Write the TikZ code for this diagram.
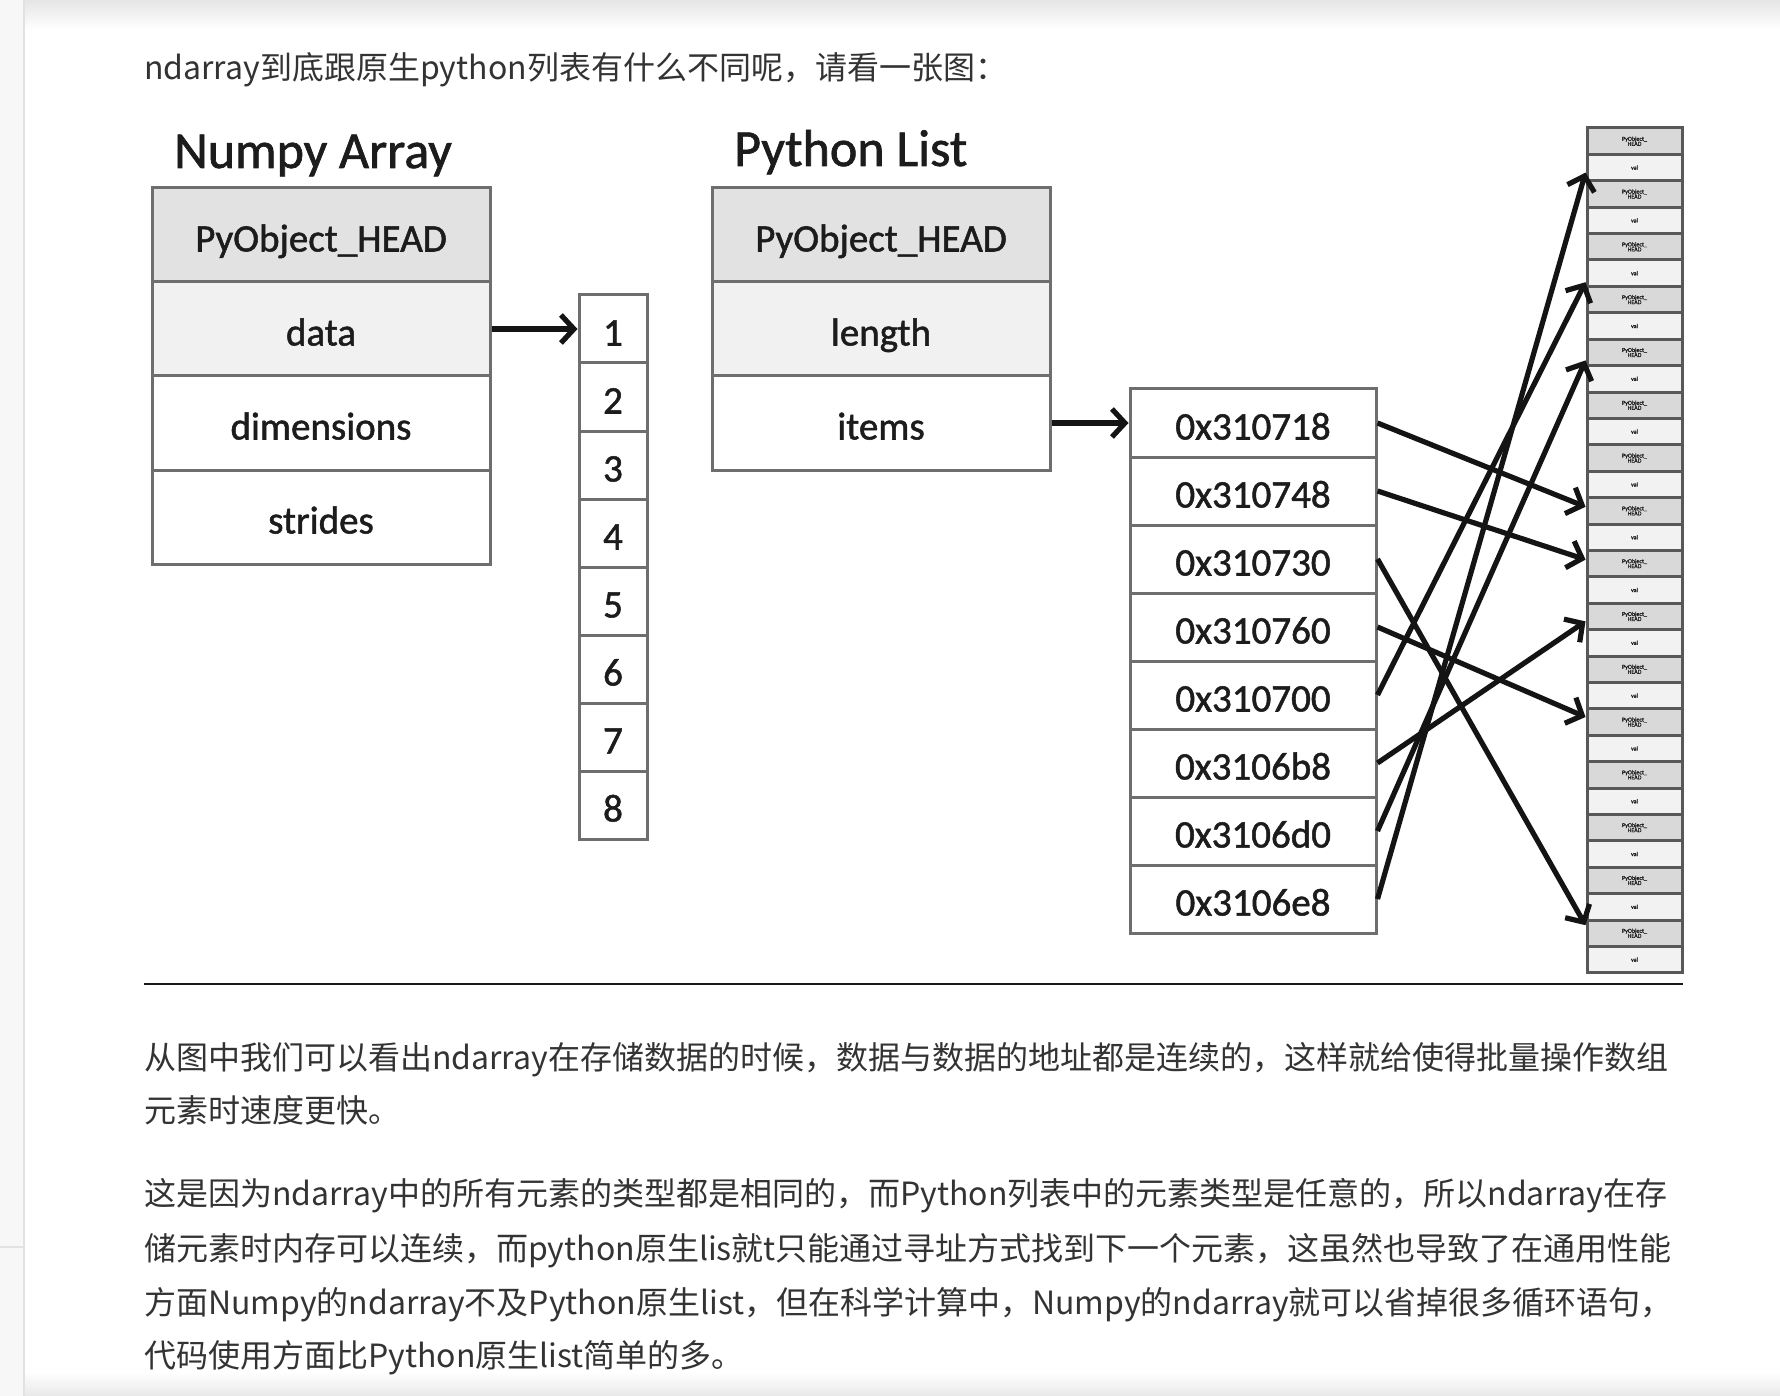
\documentclass[tikz,border=0pt]{standalone}
\usepackage{fontspec}
\setmainfont{Carlito}
\newfontfamily\diag{Carlito}[FakeBold=1.3]
\newfontfamily\cjk{Noto Sans CJK SC}
\usetikzlibrary{arrows.meta,calc}
\definecolor{bord}{HTML}{6E6E6E}
\definecolor{mbord}{HTML}{585858}
\definecolor{headfill}{HTML}{E2E2E2}
\definecolor{rowfill}{HTML}{F1F1F1}
\definecolor{memgrey}{HTML}{D9D9D9}
\definecolor{memlight}{HTML}{F2F2F2}
\definecolor{txtd}{HTML}{1C1C1C}
\definecolor{bodytxt}{HTML}{333333}
\definecolor{sidebar}{HTML}{F7F7F7}
\definecolor{sideline}{HTML}{E2E2E2}
\tikzset{
  cellbase/.style={draw=bord, line width=3pt, inner sep=0pt, text=txtd,
    text height=33pt, text depth=0pt,
    font=\diag\fontsize{39}{44}\selectfont},
  rowbox/.style={cellbase, minimum width=338pt, minimum height=94pt},
  numcell/.style={cellbase, fill=white, minimum width=68pt, minimum height=68pt},
  addrcell/.style={cellbase, fill=white, minimum width=246pt, minimum height=68pt},
  memcell/.style={draw=mbord, line width=3pt, minimum width=95pt, minimum height=26.4pt,
    inner sep=0pt, align=center, text=txtd, font=\diag\fontsize{6}{6}\selectfont},
  memg/.style={memcell, fill=memgrey},
  meml/.style={memcell, fill=memlight},
  ptr/.style={line width=5.2pt, draw=black!92,
    -{Straight Barb[length=13pt,width=28pt]}},
  title/.style={anchor=base west, inner sep=0pt, text=txtd, font=\diag\fontsize{52}{58}\selectfont},
  bodyline/.style={anchor=base west, inner sep=0pt, text=bodytxt,
    font=\cjk\fontsize{32}{36}\selectfont}
}
\begin{document}
\begin{tikzpicture}[x=1pt,y=-1pt]
\useasboundingbox (0,0) rectangle (1780,1396);
\fill[white] (0,0) rectangle (1780,1396);
% page chrome
\shade[top color=black!10, bottom color=white] (0,0) rectangle (1780,30);
\shade[top color=white, bottom color=black!9] (0,1372) rectangle (1780,1396);
\fill[sidebar] (0,0) rectangle (24,1396);
\draw[sideline, line width=1.5pt] (24,0) -- (24,1396);
\draw[sideline, line width=1.5pt] (0,1247) -- (24,1247);

% heading text
\node[bodyline] (intro) at (144,80) {ndarray到底跟原生python列表有什么不同呢，请看一张图：};

% titles
\node[title] (tnp) at (174,168) {Numpy Array};
\node[title] (tpl) at (734,166) {Python List};

% Numpy array struct
\node[rowbox, fill=headfill] (nphead) at (321,235) {PyObject\_HEAD};
\node[rowbox, fill=rowfill] (npdata) at (321,329) {data};
\node[rowbox, fill=white] (npdim) at (321,423) {dimensions};
\node[rowbox, fill=white] (npstr) at (321,517) {strides};

% contiguous data
\foreach \i in {1,...,8}{
  \node[numcell] (n\i) at (613,{329+68*(\i-1)}) {\i};
}

% Python list struct
\node[rowbox, fill=headfill] (plhead) at (881,235) {PyObject\_HEAD};
\node[rowbox, fill=rowfill] (pllen) at (881,329) {length};
\node[rowbox, fill=white] (plitems) at (881,423) {items};

% address column
\foreach \t [count=\i] in {0x310718,0x310748,0x310730,0x310760,0x310700,0x3106b8,0x3106d0,0x3106e8}{
  \node[addrcell] (a\i) at (1253,{423+68*(\i-1)}) {\t};
}

% memory column
\foreach \k in {0,...,15}{
  \node[memg] (r\the\numexpr2*\k\relax) at (1634.5,{141.2+52.8*\k}) {PyObject\_\\[-1pt]HEAD};
  \node[meml] (r\the\numexpr2*\k+1\relax) at (1634.5,{167.6+52.8*\k}) {val};
}

% pointers
\draw[ptr] (npdata.east) -- (n1.west);
\draw[ptr] (plitems.east) -- (a1.west);
\draw[ptr] (a1.east) -- ($(r14.west)+(0,-4)$);
\draw[ptr] (a2.east) -- ($(r16.west)+(0,-4)$);
\draw[ptr] (a3.east) -- ($(r30.west)+(0,-8)$);
\draw[ptr] (a4.east) -- ($(r22.west)+(0,-5)$);
\draw[ptr] (a5.east) -- ($(r5.west)+(0,9)$);
\draw[ptr] (a6.east) -- ($(r18.west)+(0,5)$);
\draw[ptr] (a7.east) -- ($(r8.west)+(0,8)$);
\draw[ptr] (a8.east) -- ($(r1.west)+(0,5)$);

% rule
\coordinate (ruleL) at (144,984);
\coordinate (ruleR) at (1683,984);
\draw[line width=2.5pt, black!90] (ruleL) -- (ruleR);

% body text
\node[bodyline] (p1) at (144,1069) {从图中我们可以看出ndarray在存储数据的时候，数据与数据的地址都是连续的，这样就给使得批量操作数组};
\node[bodyline] (p2) at (144,1122) {元素时速度更快。};
\node[bodyline] (p3) at (144,1205) {这是因为ndarray中的所有元素的类型都是相同的，而Python列表中的元素类型是任意的，所以ndarray在存};
\node[bodyline] (p4) at (144,1260) {储元素时内存可以连续，而python原生lis就t只能通过寻址方式找到下一个元素，这虽然也导致了在通用性能};
\node[bodyline] (p5) at (144,1314) {方面Numpy的ndarray不及Python原生list，但在科学计算中，Numpy的ndarray就可以省掉很多循环语句，};
\node[bodyline] (p6) at (144,1367) {代码使用方面比Python原生list简单的多。};
\end{tikzpicture}
\end{document}
